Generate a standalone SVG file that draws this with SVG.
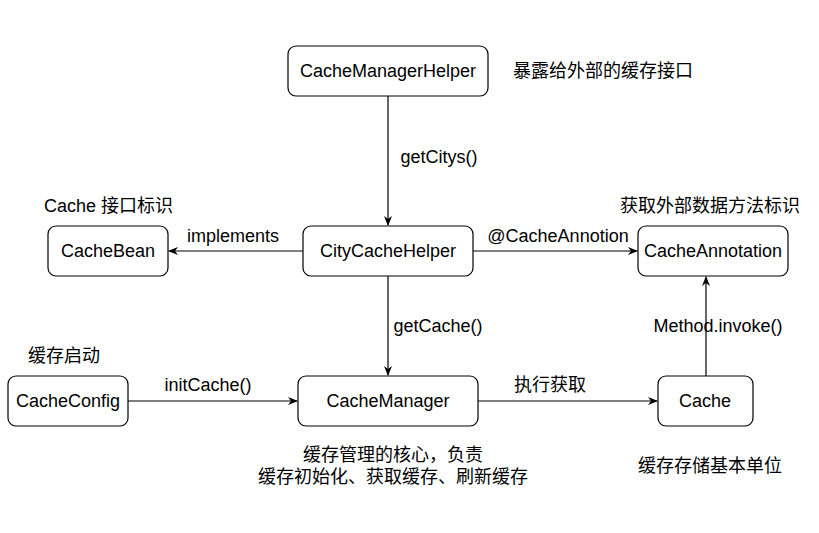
<svg xmlns="http://www.w3.org/2000/svg" width="819" height="533" viewBox="0 0 819 533">
<defs>
<marker id="arr" viewBox="0 0 10 10" refX="9" refY="5" markerWidth="10" markerHeight="10" markerUnits="userSpaceOnUse" orient="auto">
<path d="M0,1 L10,5 L0,9 L3,5 Z" fill="#000"/>
</marker>
</defs>
<style>
text{font-family:"Liberation Sans","Noto Sans CJK SC",sans-serif;font-size:18px;fill:#000}
.m{text-anchor:middle;dominant-baseline:central}
.s{text-anchor:start;dominant-baseline:central}
rect{fill:#fff;stroke:#000;stroke-width:1.2}
line{stroke:#000;stroke-width:1.2}
.lb{fill:#fff}
</style>
<rect x="0" y="0" width="819" height="533" style="fill:#fff;stroke:none"/>
<g id="connectors">
<line x1="388" y1="96" x2="388" y2="225" marker-end="url(#arr)"/>
<rect class="lb" x="395" y="145" width="88" height="24" style="stroke:none"/>
<text class="m" x="439" y="157">getCitys()</text>
<line x1="303" y1="251" x2="169" y2="251" marker-end="url(#arr)"/>
<text class="m" x="233" y="236">implements</text>
<line x1="473" y1="251" x2="637" y2="251" marker-end="url(#arr)"/>
<text class="m" x="558" y="236">@CacheAnnotion</text>
<line x1="388" y1="276" x2="388" y2="375" marker-end="url(#arr)"/>
<text class="m" x="438" y="326">getCache()</text>
<line x1="128" y1="401" x2="297" y2="401" marker-end="url(#arr)"/>
<text class="m" x="208" y="385">initCache()</text>
<line x1="478" y1="401" x2="657" y2="401" marker-end="url(#arr)"/>
<text class="m" x="550" y="385">执行获取</text>
<line x1="706" y1="376" x2="706" y2="277" marker-end="url(#arr)"/>
<text class="m" x="718" y="326">Method.invoke()</text>
</g>
<g id="CacheManagerHelper">
<rect x="288" y="46" width="200" height="50" rx="8"/>
<text class="m" x="388" y="71">CacheManagerHelper</text>
</g>
<g id="CityCacheHelper">
<rect x="303" y="226" width="170" height="50" rx="8"/>
<text class="m" x="388" y="251">CityCacheHelper</text>
</g>
<g id="CacheBean">
<rect x="48" y="226" width="120" height="50" rx="8"/>
<text class="m" x="108" y="251">CacheBean</text>
</g>
<g id="CacheAnnotation">
<rect x="638" y="226" width="150" height="50" rx="8"/>
<text class="m" x="713" y="251">CacheAnnotation</text>
</g>
<g id="CacheConfig">
<rect x="8" y="376" width="120" height="50" rx="8"/>
<text class="m" x="68" y="401">CacheConfig</text>
</g>
<g id="CacheManager">
<rect x="298" y="376" width="180" height="50" rx="8"/>
<text class="m" x="388" y="401">CacheManager</text>
</g>
<g id="Cache">
<rect x="658" y="376" width="95" height="50" rx="8"/>
<text class="m" x="705" y="401">Cache</text>
</g>
<g id="labels">
<text class="s" x="513" y="71">暴露给外部的缓存接口</text>
<text class="s" x="44" y="206">Cache 接口标识</text>
<text class="s" x="620" y="206">获取外部数据方法标识</text>
<text class="s" x="28" y="356">缓存启动</text>
<text class="m" x="393" y="455">缓存管理的核心，负责</text>
<text class="m" x="393" y="477">缓存初始化、获取缓存、刷新缓存</text>
<text class="m" x="710" y="466">缓存存储基本单位</text>
</g>
</svg>
